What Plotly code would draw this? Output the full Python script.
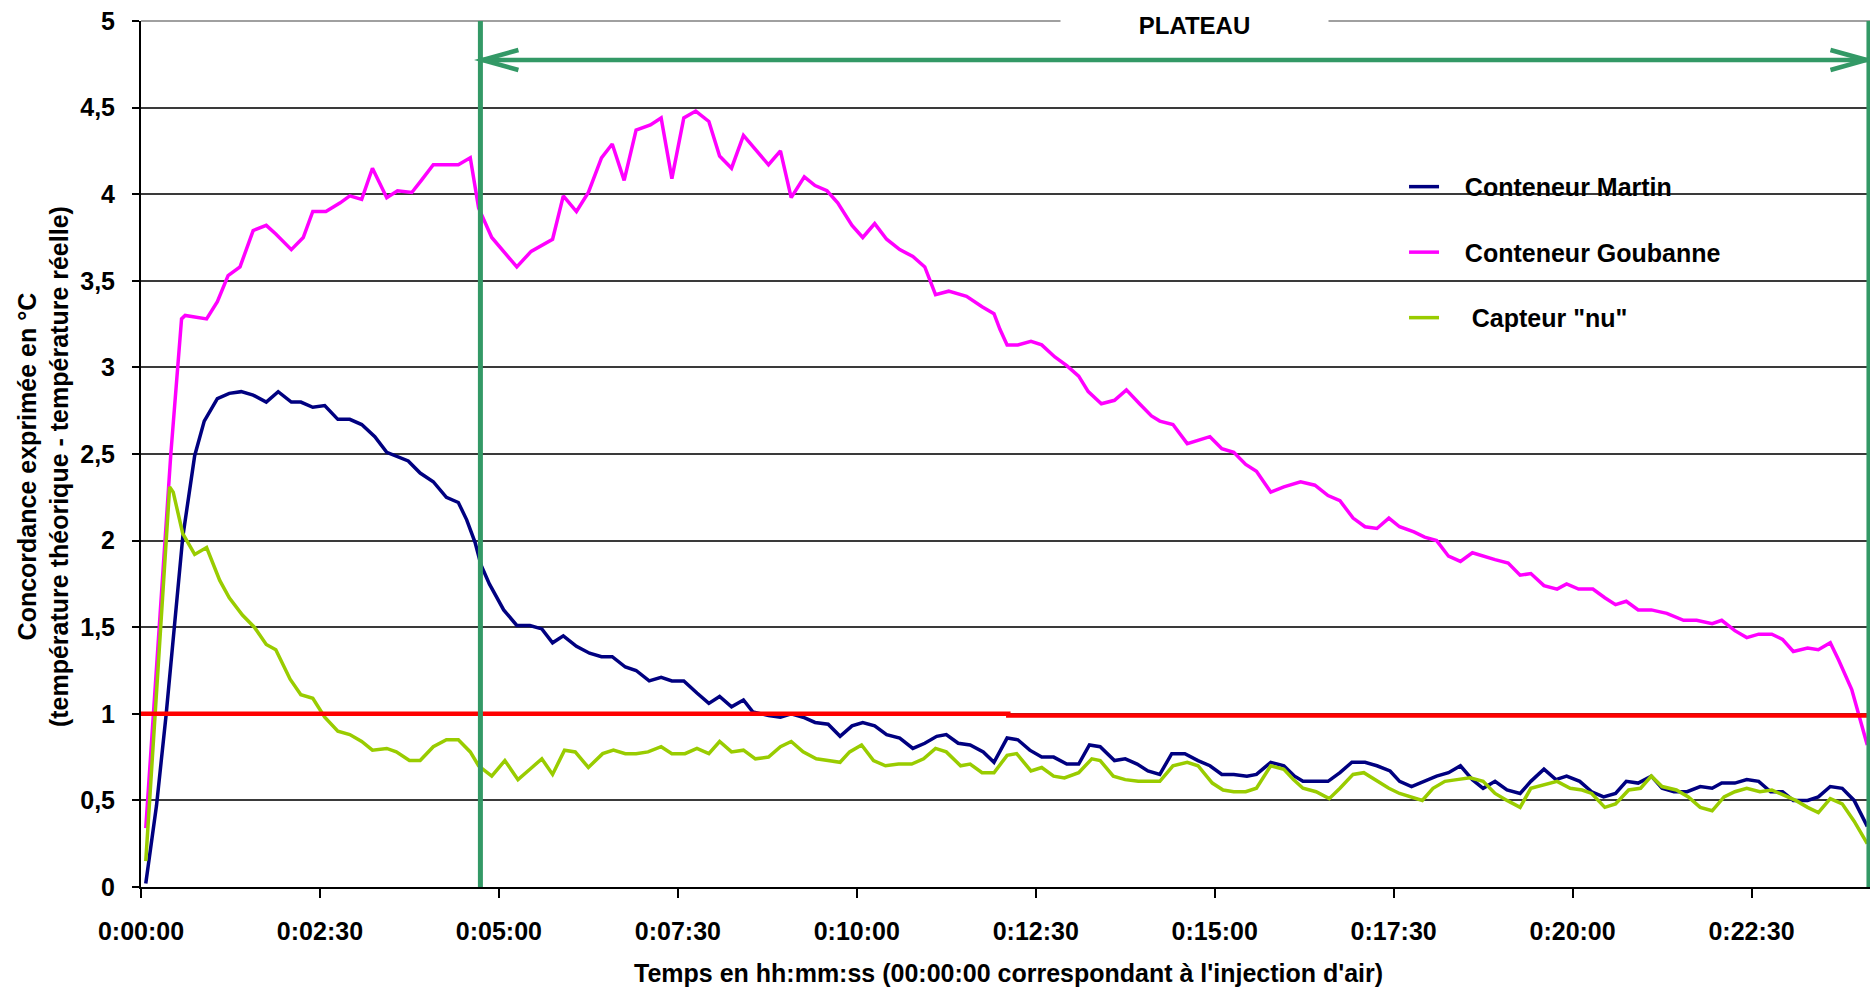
import plotly.graph_objects as go

# ---------------- data (time in seconds after air injection, value in °C) ----------------
martin = [(4,0.02),(13,0.47),(21,0.99),(28,1.50),(35,2.02),(45,2.49),(53,2.69),(64,2.82),(74,2.85),(84,2.86),
          (94,2.84),(105,2.80),(115,2.86),(126,2.80),(134,2.80),(144,2.77),(154,2.78),(165,2.70),(175,2.70),(185,2.67),
          (196,2.60),(206,2.51),(214,2.49),(224,2.46),(234,2.39),(245,2.34),(256,2.25),(266,2.22),(273,2.12),(280,1.99),
          (285,1.86),(292,1.75),(304,1.60),(315,1.51),(326,1.51),(336,1.49),(345,1.41),(354,1.45),(365,1.39),(376,1.35),
          (386,1.33),(395,1.33),(406,1.27),(415,1.25),(426,1.19),(436,1.21),(445,1.19),(455,1.19),(466,1.12),(476,1.06),
          (485,1.10),(495,1.04),(505,1.08),(513,1.01),(526,0.99),(536,0.98),(545,1.00),(555,0.98),(565,0.95),(576,0.94),
          (586,0.87),(596,0.93),(605,0.95),(615,0.93),(625,0.88),(636,0.86),(647,0.80),(657,0.83),(667,0.87),(675,0.88),
          (685,0.83),(695,0.82),(706,0.78),(715,0.72),(726,0.86),(735,0.85),(745,0.79),(755,0.75),(765,0.75),(776,0.71),
          (786,0.71),(795,0.82),(804,0.81),(816,0.73),(825,0.74),(835,0.71),(844,0.67),(854,0.65),(864,0.77),(875,0.77),
          (886,0.73),(896,0.70),(906,0.65),(916,0.65),(927,0.64),(935,0.65),(947,0.72),(958,0.70),(967,0.64),(974,0.61),
          (984,0.61),(995,0.61),(1005,0.66),(1015,0.72),(1026,0.72),(1036,0.70),(1047,0.67),(1055,0.61),(1065,0.58),
          (1075,0.61),(1086,0.64),(1096,0.66),(1106,0.70),(1116,0.62),(1125,0.57),(1135,0.61),(1145,0.56),(1156,0.54),
          (1165,0.61),(1176,0.68),(1186,0.62),(1195,0.64),(1206,0.61),(1216,0.55),(1226,0.52),(1236,0.54),(1245,0.61),
          (1255,0.60),(1266,0.64),(1275,0.57),(1285,0.55),(1296,0.55),(1307,0.58),(1317,0.57),(1325,0.60),(1336,0.60),
          (1346,0.62),(1356,0.61),(1366,0.55),(1376,0.55),(1385,0.50),(1397,0.50),(1406,0.52),(1416,0.58),(1426,0.57),
          (1436,0.50),(1447,0.35)]

goubanne = [(4,0.34),(25,2.50),(34,3.28),(37,3.30),(55,3.28),(64,3.38),(73,3.53),(83,3.58),(94,3.79),(105,3.82),
            (113,3.77),(126,3.68),(136,3.75),(144,3.90),(155,3.90),(167,3.95),(175,3.99),(185,3.97),(194,4.15),(206,3.98),
            (215,4.02),(227,4.01),(235,4.08),(245,4.17),(266,4.17),(276,4.21),(283,3.92),(294,3.75),(315,3.58),(327,3.67),
            (345,3.74),(354,3.99),(365,3.90),(375,4.01),(386,4.21),(395,4.29),(405,4.08),(415,4.37),(427,4.40),(436,4.44),
            (445,4.09),(455,4.44),(465,4.48),(476,4.42),(485,4.22),(495,4.15),(505,4.34),(516,4.25),(526,4.17),(536,4.25),
            (545,3.98),(556,4.10),(565,4.05),(575,4.02),(584,3.95),(596,3.82),(605,3.75),(615,3.83),(625,3.74),(636,3.68),
            (647,3.64),(657,3.58),(666,3.42),(677,3.44),(692,3.41),(705,3.35),(715,3.31),(720,3.22),(726,3.13),(735,3.13),
            (746,3.15),(755,3.13),(766,3.06),(776,3.01),(786,2.95),(794,2.86),(805,2.79),(816,2.81),(826,2.87),(837,2.79),
            (847,2.72),(854,2.69),(865,2.67),(877,2.56),(896,2.60),(906,2.53),(916,2.51),(926,2.44),(935,2.40),(947,2.28),
            (958,2.31),(972,2.34),(984,2.32),(995,2.26),(1005,2.23),(1016,2.13),(1026,2.08),(1036,2.07),(1046,2.13),
            (1055,2.08),(1067,2.05),(1076,2.02),(1086,2.00),(1096,1.91),(1106,1.88),(1116,1.93),(1125,1.91),(1135,1.89),
            (1146,1.87),(1156,1.80),(1165,1.81),(1176,1.74),(1187,1.72),(1195,1.75),(1205,1.72),(1217,1.72),(1227,1.67),
            (1236,1.63),(1245,1.65),(1255,1.60),(1266,1.60),(1279,1.58),(1293,1.54),(1304,1.54),(1317,1.52),(1325,1.54),
            (1336,1.48),(1346,1.44),(1356,1.46),(1367,1.46),(1376,1.43),(1385,1.36),(1397,1.38),(1406,1.37),(1416,1.41),
            (1423,1.31),(1434,1.14),(1440,1.00),(1447,0.82)]

capteur_nu = [(4,0.15),(10,0.79),(17,1.60),(24,2.31),(27,2.28),(35,2.04),(45,1.92),(55,1.96),(66,1.77),(74,1.67),
              (85,1.57),(95,1.50),(105,1.40),(113,1.37),(125,1.20),(134,1.11),(144,1.09),(154,0.98),(165,0.90),(175,0.88),
              (185,0.84),(194,0.79),(206,0.80),(214,0.78),(225,0.73),(234,0.73),(245,0.81),(256,0.85),(266,0.85),(276,0.78),
              (283,0.70),(294,0.64),(305,0.73),(316,0.62),(326,0.68),(336,0.74),(345,0.65),(355,0.79),(364,0.78),(375,0.69),
              (387,0.77),(396,0.79),(406,0.77),(415,0.77),(425,0.78),(436,0.81),(445,0.77),(456,0.77),(466,0.80),(476,0.77),
              (485,0.84),(495,0.78),(505,0.79),(515,0.74),(526,0.75),(536,0.81),(545,0.84),(555,0.78),(566,0.74),(575,0.73),
              (586,0.72),(594,0.78),(604,0.82),(614,0.73),(624,0.70),(635,0.71),(646,0.71),(656,0.74),(666,0.80),(675,0.78),
              (687,0.70),(695,0.71),(705,0.66),(715,0.66),(726,0.76),(734,0.77),(746,0.67),(755,0.69),(765,0.64),(774,0.63),
              (786,0.66),(797,0.74),(804,0.73),(815,0.64),(825,0.62),(836,0.61),(844,0.61),(854,0.61),(865,0.70),(877,0.72),
              (886,0.70),(898,0.60),(907,0.56),(916,0.55),(926,0.55),(935,0.57),(947,0.70),(958,0.68),(966,0.62),(974,0.57),
              (985,0.55),(996,0.51),(1005,0.57),(1016,0.65),(1025,0.66),(1034,0.62),(1046,0.57),(1055,0.54),(1064,0.52),
              (1074,0.50),(1083,0.57),(1093,0.61),(1103,0.62),(1114,0.63),(1125,0.61),(1135,0.54),(1145,0.50),(1156,0.46),
              (1165,0.57),(1176,0.59),(1187,0.61),(1198,0.57),(1208,0.56),(1216,0.54),(1227,0.46),(1236,0.48),(1247,0.56),
              (1257,0.57),(1266,0.64),(1275,0.58),(1287,0.56),(1297,0.52),(1307,0.46),(1317,0.44),(1327,0.52),(1336,0.55),
              (1346,0.57),(1357,0.55),(1367,0.56),(1377,0.53),(1387,0.50),(1397,0.46),(1406,0.43),(1416,0.51),(1426,0.48),
              (1436,0.38),(1447,0.25)]

reference_x = [0, 727, 727, 1449.3]
reference_y = [1.0, 1.0, 0.99, 0.99]

y_ticks = [0, 0.5, 1, 1.5, 2, 2.5, 3, 3.5, 4, 4.5, 5]
y_tick_labels = ["0", "0,5", "1", "1,5", "2", "2,5", "3", "3,5", "4", "4,5", "5"]
x_ticks = [0, 150, 300, 450, 600, 750, 900, 1050, 1200, 1350]
x_tick_labels = ["0:00:00", "0:02:30", "0:05:00", "0:07:30", "0:10:00", "0:12:30",
                 "0:15:00", "0:17:30", "0:20:00", "0:22:30"]
x_max = 1449.3

plateau_start = 284.5
plateau_end = 1448
plateau_level = 4.775

# ---------------- figure ----------------
FONT = "Liberation Sans, Arial, sans-serif"
GREEN = "#339966"
NB = "\u00a0\u00a0\u00a0"

fig = go.Figure()
series = [("Conteneur Martin", martin, "#000080"),
          ("Conteneur Goubanne", goubanne, "#FF00FF"),
          (" Capteur \"nu\"", capteur_nu, "#99CC00")]
for name, data, color in series:
    xs, ys = zip(*data)
    fig.add_trace(go.Scatter(x=list(xs), y=list(ys), mode="lines", name=NB + name,
                             legendgroup=name, line=dict(color=color, width=3.5)))

fig.add_trace(go.Scatter(x=reference_x, y=reference_y, mode="lines", showlegend=False,
                         line=dict(color="#FF0000", width=4.5)))

shapes = [
    # lighter top border line
    dict(type="line", xref="paper", yref="paper", x0=0, x1=1, y0=1, y1=1,
         line=dict(color="#a0a0a0", width=2), layer="between"),
    # legend white box
    dict(type="rect", xref="paper", yref="paper", x0=0.7102, x1=0.9624, y0=0.625, y1=0.851,
         fillcolor="white", line=dict(width=0), layer="between"),
    # plateau lines
    dict(type="line", xref="x", yref="paper", x0=plateau_start, x1=plateau_start, y0=0, y1=1,
         line=dict(color=GREEN, width=5), layer="above"),
    dict(type="line", xref="x", yref="paper", x0=plateau_end, x1=plateau_end, y0=0, y1=1,
         line=dict(color=GREEN, width=4), layer="above"),
    dict(type="line", xref="x", yref="y", x0=plateau_start, x1=plateau_end,
         y0=plateau_level, y1=plateau_level, line=dict(color=GREEN, width=4.5), layer="above"),
    dict(type="path", xref="x", yref="y", xsizemode="pixel", ysizemode="pixel",
         xanchor=plateau_start, yanchor=plateau_level, path="M 38,10 L 2,0 L 38,-10",
         line=dict(color=GREEN, width=4.5), layer="above"),
    dict(type="path", xref="x", yref="y", xsizemode="pixel", ysizemode="pixel",
         xanchor=plateau_end, yanchor=plateau_level, path="M -38,10 L -2,0 L -38,-10",
         line=dict(color=GREEN, width=4.5), layer="above"),
]

annotations = [
    dict(text="PLATEAU", x=(plateau_start + plateau_end) / 2 + 17, xref="x", y=0.9954, yref="paper",
         showarrow=False, bgcolor="white", width=265, height=32, xanchor="center", yanchor="middle",
         font=dict(family=FONT, size=24, color="black", weight="bold")),
    dict(text="Temps en hh:mm:ss (00:00:00 correspondant à l'injection d'air)",
         x=0.502, xref="paper", y=-0.0993, yref="paper", showarrow=False, yanchor="middle",
         font=dict(family=FONT, size=25, color="black", weight="bold")),
    dict(text="Concordance exprimée en °C<br>(température théorique - température réelle)",
         x=-0.0567, xref="paper", y=0.486, yref="paper", showarrow=False, textangle=-90,
         xanchor="center", yanchor="middle",
         font=dict(family=FONT, size=25, color="black", weight="bold")),
]

fig.update_layout(
    width=1872, height=988,
    margin=dict(l=141, r=2, t=21, b=101),
    paper_bgcolor="white", plot_bgcolor="white",
    font=dict(family=FONT, size=25, color="black", weight="bold"),
    showlegend=True,
    legend=dict(x=0.7305, y=0.835, xanchor="left", yanchor="top",
                bgcolor="rgba(0,0,0,0)", traceorder="grouped", tracegroupgap=30,
                font=dict(family=FONT, size=25, color="black", weight="bold")),
    shapes=shapes,
    annotations=annotations,
    xaxis=dict(range=[0, x_max], tickvals=x_ticks, ticktext=x_tick_labels,
               showgrid=False, zeroline=False, showline=True, linecolor="black", linewidth=2,
               ticks="outside", ticklen=9, tickwidth=2, tickcolor="black",
               ticklabelstandoff=12,
               tickfont=dict(family=FONT, size=25, color="black", weight="bold")),
    yaxis=dict(range=[0, 5], tickvals=y_ticks, ticktext=y_tick_labels,
               showgrid=True, gridcolor="#3a3a3a", gridwidth=1.5, zeroline=False,
               showline=True, linecolor="black", linewidth=2,
               ticks="outside", ticklen=7, tickwidth=2, tickcolor="black",
               ticklabelstandoff=12,
               tickfont=dict(family=FONT, size=25, color="black", weight="bold")),
)

fig.write_html("out.html", config={"displayModeBar": False},
               post_script="document.body.style.margin='0';document.body.style.overflow='hidden';")
